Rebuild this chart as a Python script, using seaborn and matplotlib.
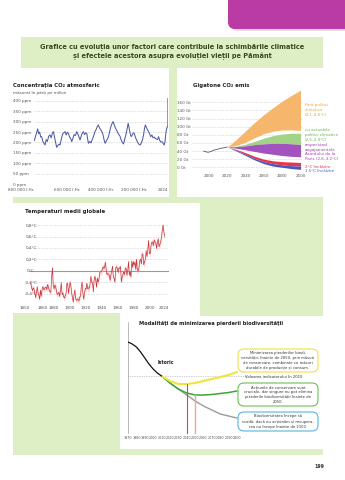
import matplotlib
matplotlib.use("Agg")
import matplotlib.pyplot as plt
from matplotlib.patches import Rectangle, FancyBboxPatch
from matplotlib.transforms import IdentityTransform
import seaborn as sns
import pandas as pd

# ---------------------------------------------------------------- data
co2_years = [-798000, -790000, -784000, -778000, -772000, -766000, -760000, -754000, -747000, -740000,
             -734000, -727000, -720000, -712000, -704000, -697000, -690000, -684000, -678000, -671000,
             -664000, -657000, -650000, -644000, -637000, -629000, -621000, -614000, -607000, -600000,
             -594000, -587000, -580000, -574000, -567000, -560000, -552000, -544000, -537000, -530000,
             -524000, -517000, -510000, -504000, -497000, -490000, -484000, -479000, -474000, -466000,
             -458000, -451000, -444000, -436000, -428000, -421000, -414000, -408000, -401000, -394000,
             -387000, -380000, -374000, -367000, -360000, -354000, -347000, -340000, -333000, -326000,
             -320000, -313000, -306000, -299000, -292000, -285000, -278000, -271000, -264000, -257000,
             -250000, -243000, -236000, -230000, -224000, -218000, -212000, -206000, -200000, -193000,
             -186000, -179000, -172000, -164000, -157000, -150000, -144000, -138000, -133000, -127000,
             -121000, -114000, -107000, -101000, -94000, -87000, -80000, -74000, -67000, -60000,
             -54000, -47000, -40000, -33000, -27000, -20000, -15000, -11000, -7000, -3000, 1750, 2024]
co2_ppm = [209, 232, 248, 265, 242, 250, 226, 228, 205, 196,
           188, 214, 205, 230, 236, 222, 245, 252, 230, 201,
           177, 186, 192, 188, 214, 240, 247, 252, 236, 249,
           244, 226, 218, 204, 220, 238, 233, 252, 240, 225,
           212, 232, 246, 252, 238, 246, 244, 218, 196, 205,
           198, 215, 228, 250, 262, 276, 284, 270, 262, 252,
           238, 212, 196, 208, 216, 228, 252, 275, 290, 300,
           286, 270, 260, 248, 238, 230, 212, 200, 193, 215,
           236, 262, 292, 268, 242, 228, 236, 246, 244, 226,
           212, 200, 192, 188, 198, 214, 236, 268, 284, 272,
           262, 252, 240, 228, 236, 222, 226, 220, 216, 214,
           228, 210, 202, 204, 196, 188, 205, 240, 262, 272, 280, 411]
co2_ticks = [-800000, -600000, -400000, -200000, 2024]
co2_ticklabels = ["800 000 î.Hr.", "600 000 î.Hr.", "400 000 î.Hr.", "200 000 î.Hr.", "2024"]

hist_years = [1994, 1997, 1999, 2002, 2005, 2008, 2010, 2013, 2016, 2020]
hist_gt = [40, 38, 37, 39, 42, 44, 45, 47, 48, 50]

scen_years = [2020, 2030, 2040, 2050, 2060, 2070, 2080, 2090, 2100]
orange_top = [50, 69, 90, 111, 130, 147, 163, 177, 190]
orange_bot = [50, 54, 62, 73, 83, 89, 92, 92, 91]
green_top = [50, 52, 57, 64, 72, 78, 82, 84, 84]
green_bot = [50, 51, 53, 56, 58, 59, 59, 58, 56]
purple_bot = [50, 47, 43, 39, 35, 32, 29, 27, 26]
red_top = [50, 44, 36, 27, 20, 16, 14, 13, 12]
red_bot = [50, 42, 32, 22, 14, 9, 6, 4, 3]
blue_bot = [50, 40, 29, 18, 9, 3, 0, -3, -5]

temp_years = list(range(1850, 2019))
temp_anom = [-0.20, -0.22, -0.30, -0.35, -0.30, -0.32, -0.40, -0.47, -0.39, -0.28,
             -0.39, -0.43, -0.50, -0.34, -0.45, -0.33, -0.28, -0.33, -0.33, -0.29,
             -0.29, -0.33, -0.24, -0.29, -0.35, -0.37, -0.38, -0.10, 0.05, -0.25,
             -0.32, -0.25, -0.28, -0.36, -0.42, -0.40, -0.38, -0.45, -0.35, -0.21,
             -0.42, -0.39, -0.46, -0.48, -0.44, -0.40, -0.22, -0.23, -0.40, -0.30,
             -0.20, -0.27, -0.40, -0.48, -0.55, -0.41, -0.34, -0.50, -0.52, -0.50,
             -0.50, -0.53, -0.46, -0.45, -0.28, -0.20, -0.40, -0.50, -0.39, -0.31,
             -0.32, -0.22, -0.32, -0.30, -0.31, -0.22, -0.10, -0.21, -0.21, -0.37,
             -0.16, -0.10, -0.16, -0.29, -0.13, -0.20, -0.15, -0.03, -0.02, -0.02,
             0.01, 0.07, 0.04, 0.05, 0.15, 0.03, -0.07, -0.05, -0.06, -0.08,
             -0.17, -0.07, 0.01, 0.08, -0.12, -0.14, -0.20, 0.05, 0.07, 0.04,
             -0.03, 0.05, 0.04, 0.07, -0.20, -0.11, -0.06, -0.02, -0.07, 0.05,
             0.03, -0.08, 0.01, 0.16, -0.08, -0.02, -0.11, 0.17, 0.06, 0.16,
             0.10, 0.15, 0.02, 0.20, 0.02, -0.01, 0.05, 0.18, 0.20, 0.12,
             0.30, 0.27, 0.10, 0.16, 0.20, 0.35, 0.25, 0.37, 0.53, 0.30,
             0.30, 0.44, 0.50, 0.50, 0.44, 0.54, 0.50, 0.49, 0.39, 0.50,
             0.56, 0.42, 0.46, 0.50, 0.58, 0.70, 0.80, 0.68, 0.60]
temp_ticks = [1850, 1860, 1880, 1900, 1920, 1940, 1960, 1980, 2000, 2024]
temp_ticklabels = ["1850", "1860", "1880", "1900", "1920", "1940", "1960", "1980", "2000", "2024"]

bio_hist_years = [1970, 1975, 1980, 1985, 1990, 1995, 2000, 2005, 2010]
bio_hist = [134, 132, 129, 124, 118, 112, 107, 103, 100]
bio_years = [2010, 2020, 2030, 2040, 2050, 2060, 2070, 2080, 2090, 2100]
bio_minimise = [100, 95, 92, 92, 93, 95, 97, 99, 101, 104]
bio_conserve = [100, 93, 87, 83, 81, 81, 81.5, 82.5, 83.5, 85]
bio_declines = [100, 93, 87, 81, 75, 70, 66, 62, 60, 58]
bio_ticks = list(range(1970, 2101, 10))

# ---------------------------------------------------------------- canvas
W, H = 345, 480
sns.set_theme(style="white")
plt.rcParams["font.family"] = ["DejaVu Sans"]
fig = plt.figure(figsize=(W / 100, H / 100), dpi=100)
fig.patch.set_facecolor("white")

GREEN = "#deefc6"
GREY = "#555555"


def box(x0, y0, x1, y1):
    return [x0 / W, 1 - y1 / H, (x1 - x0) / W, (y1 - y0) / H]


def fx(x):
    return x / W


def fy(y):
    return 1 - y / H


def band(x0, y0, x1, y1, color, z=0):
    fig.add_artist(Rectangle((fx(x0), fy(y1)), (x1 - x0) / W, (y1 - y0) / H,
                             transform=fig.transFigure, color=color, lw=0, zorder=z))


# page tab and green frame
fig.add_artist(FancyBboxPatch((231, H - 31), 120, 40, boxstyle="round,pad=0,rounding_size=7",
                              transform=IdentityTransform(), fc="#9a9a9a", ec="none", alpha=0.35, zorder=0))
fig.add_artist(FancyBboxPatch((228, H - 29), 125, 40, boxstyle="round,pad=0,rounding_size=7",
                              transform=IdentityTransform(), fc="#b93ba3", ec="none", zorder=1))
band(21, 37, 323, 68, GREEN)
band(169, 68, 177, 200, GREEN)
band(13, 197, 323, 203, GREEN)
band(200, 197, 323, 316, GREEN)
band(13, 313, 120, 455, GREEN)
band(13, 449, 323, 455, GREEN)

fig.text(fx(172), fy(46.5), "Grafice cu evoluția unor factori care contribuie la schimbările climatice",
         ha="center", va="center", fontsize=4.75, fontweight="bold", color="#3b4a1c")
fig.text(fx(172), fy(56.5), "și efectele acestora asupra evoluției vieții pe Pământ",
         ha="center", va="center", fontsize=4.75, fontweight="bold", color="#3b4a1c")

TICK_FS = 3.0
GRID = dict(color="#b5b5b5", lw=0.45, ls=(0, (1, 1.6)))


def clean(ax):
    for s in ax.spines.values():
        s.set_visible(False)
    ax.set_facecolor("none")
    ax.tick_params(length=0, labelsize=TICK_FS, labelcolor=GREY)
    ax.set_xlabel("")
    ax.set_ylabel("")


# ---------------------------------------------------------------- CO2 concentration
ax1 = fig.add_axes(box(34, 96.5, 168, 184.3))
co2 = pd.DataFrame({"an": co2_years, "ppm": co2_ppm})
for v in range(50, 401, 50):
    ax1.axhline(v, **GRID, zorder=0)
ax1.axhline(0, color="#8a8a8a", lw=0.6, zorder=0)
sns.lineplot(data=co2, x="an", y="ppm", ax=ax1, color="#4d5ca6", lw=0.75)
ax1.set_xlim(-800000, 2500)
ax1.set_ylim(0, 420)
clean(ax1)
ax1.set_yticks(range(0, 401, 50))
ax1.set_yticklabels([f"{v} ppm" for v in range(0, 401, 50)])
ax1.tick_params(axis="y", pad=15.1)
for lab in ax1.get_yticklabels():
    lab.set_horizontalalignment("left")
ax1.set_xticks(co2_ticks)
ax1.set_xticklabels(co2_ticklabels)
ax1.tick_params(axis="x", pad=2.5)
xl = ax1.get_xticklabels()
xl[0].set_horizontalalignment("right")
xl[-1].set_horizontalalignment("right")
fig.text(fx(13), fy(85), "Concentrația CO₂ atmosferic", fontsize=3.9, fontweight="bold",
         color="#222222", va="center")
fig.text(fx(13), fy(93), "măsurat în părți pe milion", fontsize=3.0, color=GREY, va="center")

# ---------------------------------------------------------------- CO2 emissions
ax2 = fig.add_axes(box(192, 88.1, 303.3, 171.4))
for v in range(0, 161, 20):
    ax2.axhline(v, **GRID, zorder=0)
ax2.fill_between(scen_years, orange_bot, orange_top, color="#f6b66b", lw=0)
ax2.fill_between(scen_years, green_bot, green_top, color="#a3d486", lw=0)
ax2.fill_between(scen_years, purple_bot, green_bot, color="#a353bd", lw=0)
ax2.fill_between(scen_years, red_bot, red_top, color="#e8344d", lw=0)
ax2.fill_between(scen_years, blue_bot, red_bot, color="#4b55b8", lw=0)
sns.lineplot(x=hist_years, y=hist_gt, ax=ax2, color="#55556a", lw=0.6)
ax2.set_xlim(1981.4, 2103)
ax2.set_ylim(-10, 195)
clean(ax2)
ax2.set_yticks(range(0, 161, 20))
ax2.set_yticklabels([f"{v} Gt" for v in range(0, 161, 20)])
ax2.tick_params(axis="y", pad=10.8)
for lab in ax2.get_yticklabels():
    lab.set_horizontalalignment("left")
ax2.set_xticks(range(2000, 2101, 20))
ax2.tick_params(axis="x", pad=2.0)
fig.text(fx(193), fy(86), "Gigatone CO₂ emis", fontsize=3.9, fontweight="bold",
         color="#222222", va="center")

LBL = dict(fontsize=2.9, va="center", ha="left", linespacing=1.25)
fig.text(fx(305), fy(110), "Fără politici\nclimatice\n(4.1–4.8°C)", color="#f0a040", **LBL)
fig.text(fx(305), fy(135), "cu actualele\npolitici climatice\n(2.5–2.9°C)", color="#6ab04c", **LBL)
fig.text(fx(305), fy(152), "respectând\nangajamentele\nAcordului de la\nParis (2.6–3.2°C)", color="#a23cb0", **LBL)
fig.text(fx(305), fy(167), "2°C încălzire", color="#e0304d", **LBL)
fig.text(fx(305), fy(171.5), "1.5°C încălzire", color="#4060c0", **LBL)

# ---------------------------------------------------------------- global temperature
ax3 = fig.add_axes(box(29.2, 219.4, 169.4, 304.9))
for v in [-0.4, -0.2, 0.2, 0.4, 0.6, 0.8]:
    ax3.axhline(v, **GRID, zorder=0)
ax3.axhline(0, color="#9a9a9a", lw=0.8, zorder=0)
temp = pd.DataFrame({"an": temp_years, "anomalie": temp_anom})
ax3.fill_between(temp["an"], temp["anomalie"] - 0.05, temp["anomalie"] + 0.05,
                 color="#f4b6b6", alpha=0.55, lw=0)
sns.lineplot(data=temp, x="an", y="anomalie", ax=ax3, color="#c8343a", lw=0.5)
ax3.set_xlim(1849, 2024)
ax3.set_ylim(-0.6, 0.9)
clean(ax3)
yt = [-0.4, -0.2, 0.0, 0.2, 0.4, 0.6, 0.8]
ax3.set_yticks(yt)
ax3.set_yticklabels(["-0,4°C", "-0,2°C", "0°C", "0,2°C", "0,4°C", "0,6°C", "0,8°C"])
ax3.tick_params(axis="y", pad=-1.3)
for lab in ax3.get_yticklabels():
    lab.set_horizontalalignment("center")
ax3.set_xticks(temp_ticks)
ax3.set_xticklabels(temp_ticklabels)
ax3.tick_params(axis="x", pad=1.0)
tl = ax3.get_xticklabels()
tl[0].set_horizontalalignment("right")
tl[1].set_horizontalalignment("left")
tl[-1].set_horizontalalignment("right")
fig.text(fx(25), fy(212), "Temperaturi medii globale", fontsize=3.9, fontweight="bold",
         color="#222222", va="center")

# ---------------------------------------------------------------- biodiversity
ax4 = fig.add_axes(box(128, 322, 240, 434))
ax4.axvline(1970, color="#b0b0b0", lw=0.6)
ax4.plot([1970, 2112], [100, 100], color="#a0a0a0", lw=0.5, ls=(0, (1, 1.5)), clip_on=False)
sns.lineplot(x=bio_years, y=bio_declines, ax=ax4, color="#9b9b9b", lw=1.0)
sns.lineplot(x=bio_years, y=bio_conserve, ax=ax4, color="#3fa535", lw=1.1)
sns.lineplot(x=bio_years, y=bio_minimise, ax=ax4, color="#f2e33a", lw=1.5)
sns.lineplot(x=bio_hist_years, y=bio_hist, ax=ax4, color="#111111", lw=0.9)
ax4.plot([2040, 2040], [42, bio_minimise[3]], color="#c0504d", lw=0.8)
ax4.plot([2050, 2050], [42, bio_conserve[4]], color="#f0a4a4", lw=1.0)
ax4.set_xlim(1970, 2103.6)
ax4.set_ylim(42, 154)
clean(ax4)
ax4.set_yticks([])
ax4.set_xticks(bio_ticks)
ax4.set_xticklabels([str(t) for t in bio_ticks])
ax4.tick_params(axis="x", pad=1.5, labelsize=2.4)
fig.text(fx(211), fy(323), "Modalități de minimizarea pierderii biodiversității", fontsize=3.7,
         fontweight="bold", color="#222222", ha="center", va="center")
fig.text(fx(158), fy(363), "Istoric", fontsize=3.3, fontweight="bold", color="#222222", va="center")
fig.text(fx(245), fy(376.5), "Valoarea indicatorului în 2010", fontsize=2.7, color="#333333", va="center")

NOTE = dict(fontsize=2.7, ha="center", va="center", linespacing=1.35, color="#333333")


def note(x0, y0, x1, y1, edge, text):
    fig.add_artist(FancyBboxPatch((x0, H - y1), x1 - x0, y1 - y0,
                                  boxstyle="round,pad=0,rounding_size=6",
                                  transform=IdentityTransform(), fc="white", ec=edge, lw=0.8))
    fig.text(fx((x0 + x1) / 2), fy((y0 + y1) / 2), text, **NOTE)


note(238, 349, 318, 372, "#f0df45",
     "Minimizarea pierderilor biodi-\nversității, înainte de 2050, prin măsuri\n"
     "de conservare, combinate cu măsuri\ndurabile de producție și consum.")
note(238, 383, 318, 406, "#6cbf55",
     "Acțiunile de conservare sunt\ncruciale, dar singure nu pot elimina\n"
     "pierderile biodiversității înainte de\n2050.")
note(238, 412, 318, 431, "#55b4e4",
     "Biodiversitatea începe să\nscadă, dacă nu acționăm și recupera-\nrea nu începe înainte de 2100.")

fig.text(fx(319), fy(466), "199", fontsize=3.4, fontweight="bold", color="#333333",
         ha="center", va="center")

fig.savefig("out.png", dpi=100, facecolor="white")
